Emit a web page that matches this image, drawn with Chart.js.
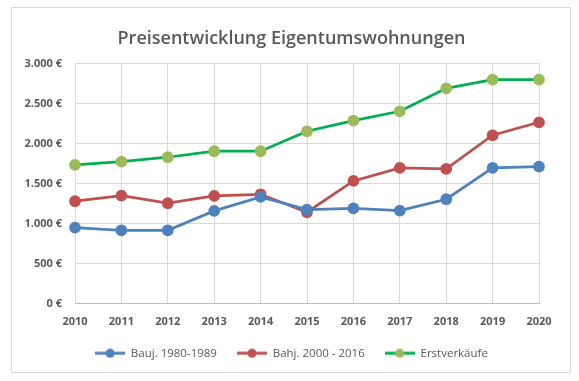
<!DOCTYPE html>
<html>
<head>
<meta charset="utf-8">
<script src="https://cdn.jsdelivr.net/npm/chart.js@4.4.0/dist/chart.umd.min.js"></script>
<style>
  html, body { margin: 0; padding: 0; background: #ffffff; }
  #wrap { position: relative; width: 579px; height: 381px; }
  #frame { position: absolute; left: 11px; top: 7px; width: 558px; height: 364px; border: 1px solid #d9d9d9; }
  canvas { position: absolute; left: 0; top: 0; }
</style>
</head>
<body>
<div id="wrap">
  <div id="frame"></div>
  <canvas id="c" width="579" height="381"></canvas>
</div>
<script>
const categories = ["2010","2011","2012","2013","2014","2015","2016","2017","2018","2019","2020"];
const seriesNames = ["Bauj. 1980-1989", "Bahj. 2000 - 2016", "Erstverkäufe"];
const bauj1980 = [950, 916, 916, 1158, 1333, 1175, 1191, 1162, 1304, 1695, 1712];
const bahj2000 = [1279, 1350, 1254, 1345, 1366, 1141, 1533, 1695, 1683, 2104, 2266];
const erstverkaeufe = [1733, 1775, 1829, 1904, 1904, 2154, 2287, 2404, 2691, 2800, 2800];
const yTicks = [0, 500, 1000, 1500, 2000, 2500, 3000];

const lineColors = ["#4f81bd", "#c0504d", "#00b050"];
const pointColors = ["#4f81bd", "#c0504d", "#9bbb59"];

function legendIcon(lineColor, pointColor) {
  const cv = document.createElement('canvas');
  cv.width = 30; cv.height = 10;
  const g = cv.getContext('2d');
  g.strokeStyle = lineColor; g.lineWidth = 3;
  g.beginPath(); g.moveTo(0, 5); g.lineTo(30, 5); g.stroke();
  g.fillStyle = pointColor;
  g.beginPath(); g.arc(15, 5, 4.5, 0, Math.PI * 2); g.fill();
  return cv;
}
const icons = [0,1,2].map(i => legendIcon(lineColors[i], pointColors[i]));

const fontFam = "'Open Sans', 'Liberation Sans', sans-serif";
const values = [bauj1980, bahj2000, erstverkaeufe];

new Chart(document.getElementById('c'), {
  type: 'line',
  data: {
    labels: categories,
    datasets: values.map((v, i) => ({
      label: seriesNames[i],
      data: v,
      borderColor: lineColors[i],
      backgroundColor: pointColors[i],
      pointBackgroundColor: pointColors[i],
      pointBorderColor: pointColors[i],
      borderWidth: 2.75,
      pointRadius: 4.5,
      pointHoverRadius: 4.5,
      tension: 0,
      fill: false
    }))
  },
  options: {
    responsive: false,
    animation: false,
    devicePixelRatio: 1,
    layout: { padding: { top: 8, left: 12, right: 8, bottom: 12 } },
    plugins: {
      title: {
        display: true,
        text: 'Preisentwicklung Eigentumswohnungen',
        color: '#595959',
        font: { family: fontFam, size: 18, weight: '600' },
        padding: { top: 20, bottom: 14 }
      },
      legend: {
        position: 'bottom',
        labels: {
          color: '#595959',
          font: { family: fontFam, size: 11.5 },
          usePointStyle: true,
          pointStyleWidth: 30,
          padding: 20,
          generateLabels: (chart) => chart.data.datasets.map((ds, i) => ({
            text: ds.label,
            pointStyle: icons[i],
            fillStyle: pointColors[i],
            strokeStyle: lineColors[i],
            lineWidth: 0,
            fontColor: '#595959',
            datasetIndex: i,
            hidden: false
          }))
        }
      },
      tooltip: { enabled: false }
    },
    scales: {
      x: {
        offset: false,
        grid: { color: '#d9d9d9', drawTicks: false },
        border: { color: '#bfbfbf' },
        ticks: { color: '#595959', font: { family: fontFam, size: 11, weight: 'bold' }, padding: 12, maxRotation: 0, autoSkip: false },
        afterFit: (s) => { s.height = 24; }
      },
      y: {
        min: 0, max: 3000,
        afterBuildTicks: (s) => { s.ticks = yTicks.map(v => ({ value: v })); },
        grid: { color: '#d9d9d9', drawTicks: false },
        border: { display: false },
        ticks: {
          color: '#595959',
          font: { family: fontFam, size: 11, weight: 'bold' },
          padding: 13,
          callback: (v) => (v === 0 ? '0' : v.toLocaleString('de-DE')) + ' €'
        },
        afterFit: (s) => { s.width = 63; }
      },
      yRight: {
        position: 'right',
        min: 0, max: 3000,
        grid: { display: false },
        border: { display: false },
        ticks: { display: false },
        afterFit: (s) => { s.width = 32; }
      }
    }
  }
});
</script>
</body>
</html>
